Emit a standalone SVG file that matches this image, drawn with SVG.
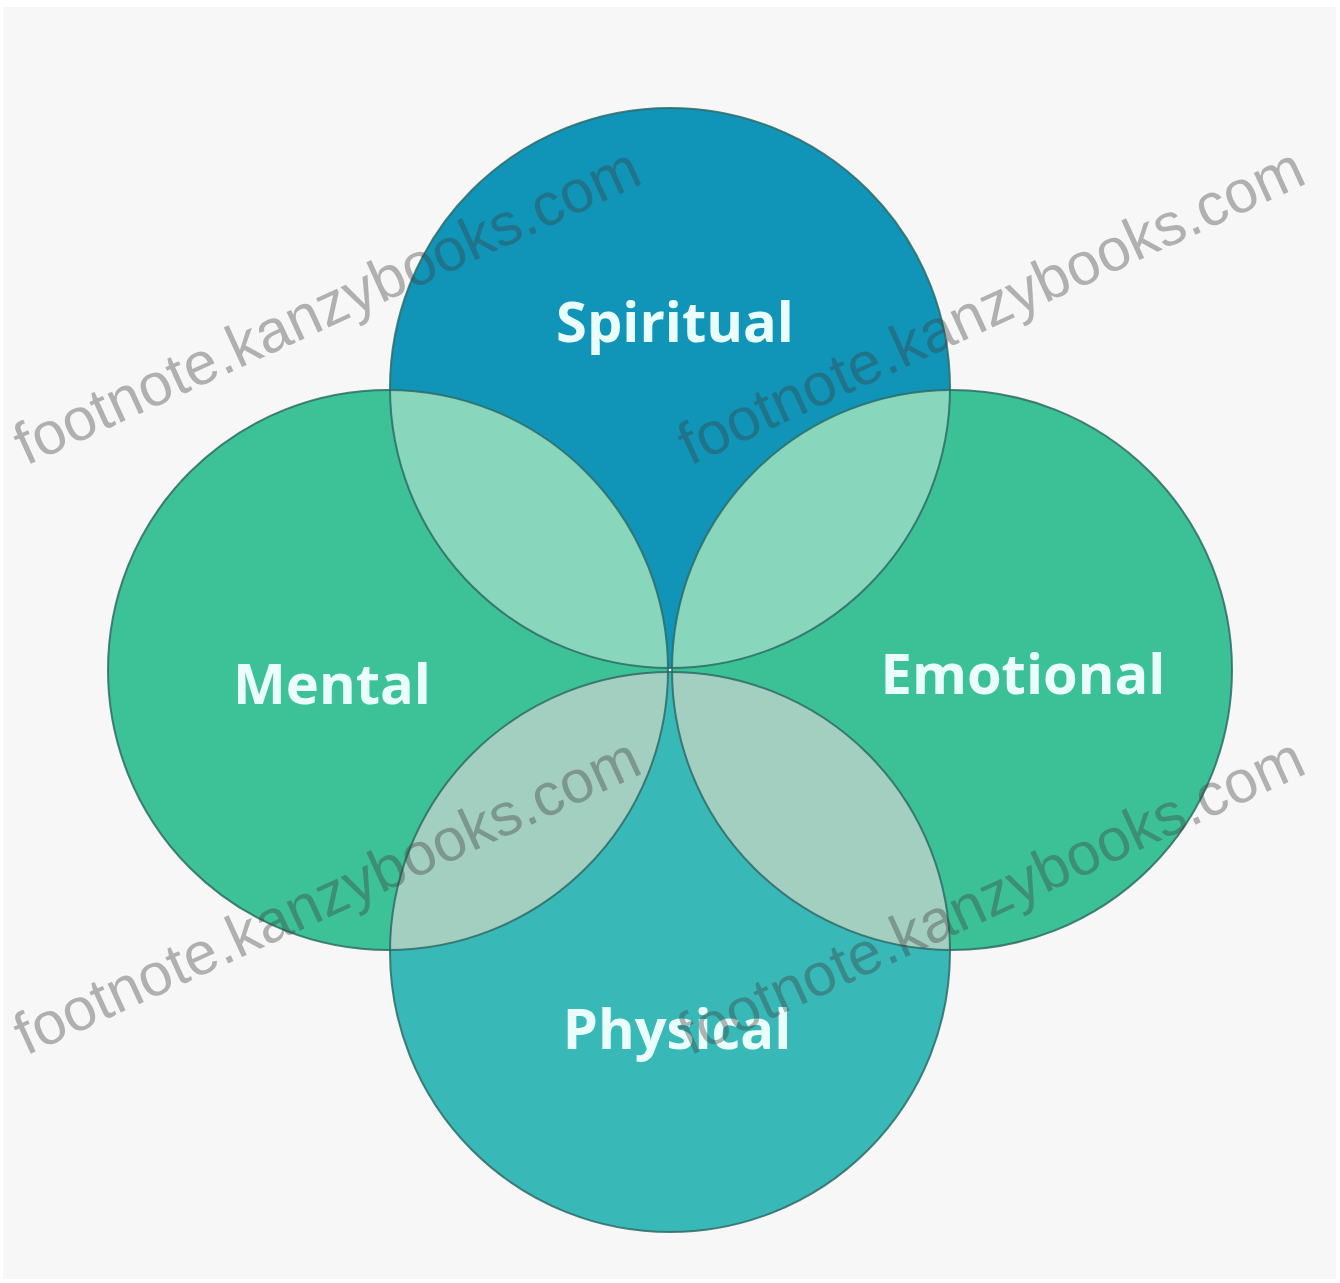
<svg xmlns="http://www.w3.org/2000/svg" xmlns:xlink="http://www.w3.org/1999/xlink" width="1340" height="1283" viewBox="0 0 1340 1283">
  <style>
    .label { font-family: "Open Sans", "Liberation Sans", sans-serif; font-weight: 700; font-size: 56px; fill: #eafffb; text-anchor: middle; }
    .outline { fill: none; stroke: #2e6b66; stroke-width: 2; stroke-opacity: 0.85; }
    .lens-top { fill: #88d7bd; }
    .lens-bottom { fill: #a3cfc1; }
    .mark { font-family: "Liberation Sans", Arial, sans-serif; font-size: 60px; fill: #3c3c3c; fill-opacity: 0.38; }
  </style>
  <defs>
    <circle id="c-spiritual" cx="670" cy="388" r="280"/>
    <circle id="c-mental" cx="388" cy="670" r="280"/>
    <circle id="c-emotional" cx="952" cy="670" r="280"/>
    <circle id="c-physical" cx="670" cy="952" r="280"/>
    <clipPath id="clip-spiritual"><circle cx="670" cy="388" r="280"/></clipPath>
    <clipPath id="clip-physical"><circle cx="670" cy="952" r="280"/></clipPath>
  </defs>

  <!-- page -->
  <rect width="1340" height="1283" fill="#ffffff"/>
  <rect x="3" y="7" width="1333" height="1272" fill="#f7f7f7"/>

  <!-- the four domains -->
  <g id="spiritual">
    <use xlink:href="#c-spiritual" fill="#1095b8"/>
    <text class="label" x="675" y="342">Spiritual</text>
  </g>
  <g id="mental">
    <use xlink:href="#c-mental" fill="#3dc196"/>
    <text class="label" x="332" y="704">Mental</text>
  </g>
  <g id="emotional">
    <use xlink:href="#c-emotional" fill="#3cc196"/>
    <text class="label" x="1023" y="694">Emotional</text>
  </g>
  <g id="physical">
    <use xlink:href="#c-physical" fill="#38b9b8"/>
    <text class="label" x="677" y="1049">Physical</text>
  </g>

  <!-- overlaps between neighbouring domains -->
  <g id="overlaps">
    <use xlink:href="#c-mental" class="lens-top" clip-path="url(#clip-spiritual)"/>
    <use xlink:href="#c-emotional" class="lens-top" clip-path="url(#clip-spiritual)"/>
    <use xlink:href="#c-mental" class="lens-bottom" clip-path="url(#clip-physical)"/>
    <use xlink:href="#c-emotional" class="lens-bottom" clip-path="url(#clip-physical)"/>
  </g>

  <!-- circle outlines -->
  <g id="outlines">
    <use xlink:href="#c-spiritual" class="outline"/>
    <use xlink:href="#c-mental" class="outline"/>
    <use xlink:href="#c-emotional" class="outline"/>
    <use xlink:href="#c-physical" class="outline"/>
  </g>

  <!-- watermark -->
  <g id="watermark">
    <text class="mark" transform="translate(26,466) rotate(-24.6)">footnote.kanzybooks.com</text>
    <text class="mark" transform="translate(690,466) rotate(-24.6)">footnote.kanzybooks.com</text>
    <text class="mark" transform="translate(26,1056) rotate(-24.6)">footnote.kanzybooks.com</text>
    <text class="mark" transform="translate(690,1056) rotate(-24.6)">footnote.kanzybooks.com</text>
  </g>
</svg>
